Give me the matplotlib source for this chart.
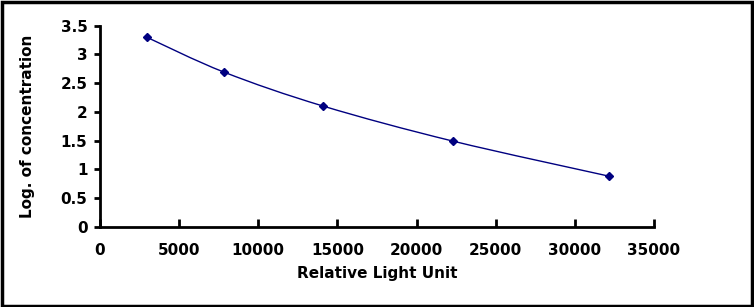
import matplotlib
matplotlib.use("Agg")
import matplotlib.pyplot as plt
import matplotlib.patches as mpatches
from matplotlib.path import Path
import numpy as np

plt.rcParams["font.family"] = ["DejaVu Sans"]
plt.rcParams["font.weight"] = "bold"

# standard curve points
rlu = [2950, 7850, 14100, 22300, 32150]
log_conc = [3.30, 2.69, 2.10, 1.49, 0.88]

x_ticks = [0, 5000, 10000, 15000, 20000, 25000, 30000, 35000]
y_ticks = [0, 0.5, 1, 1.5, 2, 2.5, 3, 3.5]
y_tick_labels = ["0", "0.5", "1", "1.5", "2", "2.5", "3", "3.5"]

navy = "#000080"

fig = plt.figure(figsize=(7.54, 3.07), dpi=100)
ax = fig.add_axes([0.1326, 0.2616, 0.7348, 0.6547])

# smooth line through the points (Excel-style bezier)
xs = np.array(rlu, dtype=float)
ys = np.array(log_conc, dtype=float)
verts = [(xs[0], ys[0])]
codes = [Path.MOVETO]
t = 1 / 6
for i in range(len(xs) - 1):
    p0 = (xs[max(i - 1, 0)], ys[max(i - 1, 0)])
    p1 = (xs[i], ys[i])
    p2 = (xs[i + 1], ys[i + 1])
    p3 = (xs[min(i + 2, len(xs) - 1)], ys[min(i + 2, len(xs) - 1)])
    c1 = (p1[0] + (p2[0] - p0[0]) * t, p1[1] + (p2[1] - p0[1]) * t)
    c2 = (p2[0] - (p3[0] - p1[0]) * t, p2[1] - (p3[1] - p1[1]) * t)
    verts += [c1, c2, p2]
    codes += [Path.CURVE4] * 3
ax.add_patch(mpatches.PathPatch(Path(verts, codes), facecolor="none",
                                edgecolor=navy, lw=1.0))
ax.plot(rlu, log_conc, linestyle="none", marker="D", markersize=4.5,
        color=navy)

ax.set_xlim(0, 35000)
ax.set_ylim(0, 3.5)
ax.set_xticks(x_ticks)
ax.set_xticklabels([str(v) for v in x_ticks])
ax.set_yticks(y_ticks)
ax.set_yticklabels(y_tick_labels)

for s in ["top", "right"]:
    ax.spines[s].set_visible(False)
for s in ["left", "bottom"]:
    ax.spines[s].set_linewidth(2)

ax.tick_params(axis="x", direction="in", length=6, width=2, pad=12,
               labelsize=11)
ax.tick_params(axis="y", direction="out", length=4, width=2, pad=5,
               labelsize=11)

ax.set_xlabel("Relative Light Unit", fontsize=11, fontweight="bold",
              labelpad=5.5)
ax.set_ylabel("Log. of concentration", fontsize=11, fontweight="bold",
              labelpad=18)

# frame around the whole picture
fig.patches.append(mpatches.Rectangle((0.002, 0.004), 0.995, 0.99,
                                      transform=fig.transFigure, fill=False,
                                      edgecolor="black", lw=2.5))

fig.savefig("out.png", dpi=100, facecolor="white")
